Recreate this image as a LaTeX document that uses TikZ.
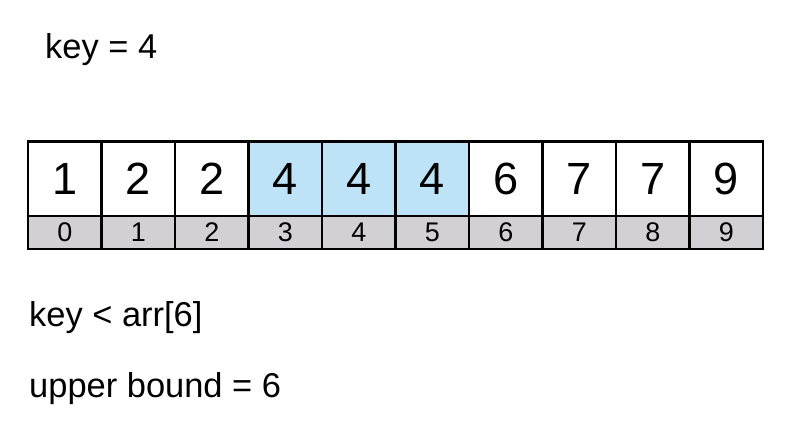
\documentclass[tikz,border=0pt]{standalone}
\usepackage{fontspec}
\setmainfont{Liberation Sans}
\usepackage{xcolor}
\usepackage{tikz}
\usetikzlibrary{positioning}
\definecolor{hitblue}{RGB}{190, 227, 246}
\definecolor{idxgray}{RGB}{211, 208, 213}

\begin{document}
\begin{tikzpicture}[
    x=0.03cm, y=-0.03cm,
    valcell/.style={rectangle, draw=black, line width=2.2pt, fill=white, minimum width=2.205cm, minimum height=2.25cm, inner sep=0pt, font=\fontsize{38.5}{40}\selectfont},
    hitcell/.style={valcell, fill=hitblue},
    idxcell/.style={rectangle, draw=black, line width=2.2pt, fill=idxgray, minimum width=2.205cm, minimum height=0.99cm, inner sep=0pt, font=\fontsize{23}{24}\selectfont},
    note/.style={anchor=base west, inner sep=0pt, font=\fontsize{29.4}{32}\selectfont}
]
\useasboundingbox (0,0) rectangle (800,433);

% Key
\node[note] (key) at (45,59) {key = 4};

% Array values and indices
\foreach \val [count=\i from 0] in {1,2,2,4,4,4,6,7,7,9} {
  \ifnum\i>2 \ifnum\i<6
    \node[hitcell] (v\i) at (64.75+73.5*\i,179) {\val};
  \else
    \node[valcell] (v\i) at (64.75+73.5*\i,179) {\val};
  \fi \else
    \node[valcell] (v\i) at (64.75+73.5*\i,179) {\val};
  \fi
  \node[idxcell] (i\i) at (64.75+73.5*\i,232.5) {\i};
}

% Result
\node[note] (cmp) at (29,327) {key < arr[6]};
\node[note] (ub) at (29,398) {upper bound = 6};
\end{tikzpicture}
\end{document}
